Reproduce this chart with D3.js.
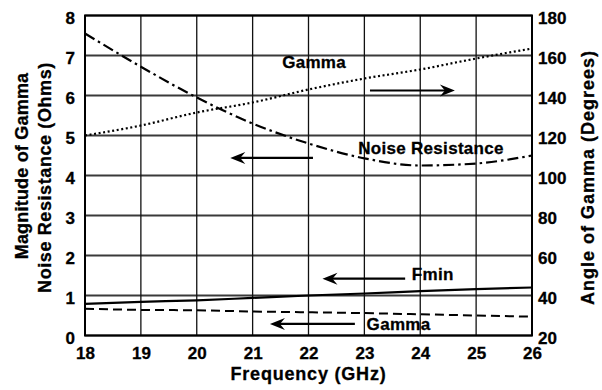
<!DOCTYPE html>
<html>
<head>
<meta charset="utf-8">
<script src="https://cdn.jsdelivr.net/npm/d3@7"></script>
<style>
  html, body { margin: 0; padding: 0; background: #fff; }
  svg { display: block; }
  text { font-family: "Liberation Sans", Arial, Helvetica, sans-serif; font-weight: bold; fill: #000; }
</style>
</head>
<body>
<svg id="chart" width="602" height="390"></svg>
<script>
// Frequency sweep (GHz)
const freq = [18, 19, 20, 21, 22, 23, 24, 25, 26];
// Angle of Gamma (degrees, right axis)
const gammaAngle = [120, 125, 131.5, 136.5, 143, 148.5, 153, 158.5, 163.5];
// Noise resistance (Ohms, left axis)
const noiseRes = [7.55, 6.72, 5.95, 5.3, 4.8, 4.43, 4.25, 4.3, 4.5];
// Fmin (left axis)
const fmin = [0.79, 0.84, 0.88, 0.94, 1.0, 1.05, 1.11, 1.16, 1.2];
// Magnitude of Gamma (left axis)
const gammaMag = [0.67, 0.64, 0.63, 0.6, 0.58, 0.56, 0.53, 0.5, 0.47];

const xTicks = [18, 19, 20, 21, 22, 23, 24, 25, 26];
const yLeftTicks = [0, 1, 2, 3, 4, 5, 6, 7, 8];
const yRightTicks = [20, 40, 60, 80, 100, 120, 140, 160, 180];

const margin = { left: 85, right: 70, top: 15.5, bottom: 54.5 };
const W = 602, H = 390;
const svg = d3.select("#chart");

const x = d3.scaleLinear().domain([18, 26]).range([margin.left, W - margin.right]);
const yL = d3.scaleLinear().domain([0, 8]).range([H - margin.bottom, margin.top]);
const yR = d3.scaleLinear().domain([20, 180]).range([H - margin.bottom, margin.top]);

// Grid
const grid = svg.append("g");
grid.selectAll("line.h").data(yLeftTicks).join("line")
  .attr("x1", x(18)).attr("x2", x(26))
  .attr("y1", d => yL(d)).attr("y2", d => yL(d))
  .attr("stroke", "#3a3a3a").attr("stroke-width", 1.8);
grid.selectAll("line.v").data(xTicks).join("line")
  .attr("y1", yL(0)).attr("y2", yL(8))
  .attr("x1", d => x(d)).attr("x2", d => x(d))
  .attr("stroke", "#111").attr("stroke-width", 1.3);

// Axes (labels only, frame drawn separately)
const axisFont = "17px";
const bottom = svg.append("g").attr("transform", `translate(0,${yL(0)})`)
  .call(d3.axisBottom(x).tickValues(xTicks).tickSize(0).tickPadding(11).tickFormat(d3.format("d")));
const left = svg.append("g").attr("transform", `translate(${x(18)},0)`)
  .call(d3.axisLeft(yL).tickValues(yLeftTicks).tickSize(0).tickPadding(10).tickFormat(d3.format("d")));
const right = svg.append("g").attr("transform", `translate(${x(26)},0)`)
  .call(d3.axisRight(yR).tickValues(yRightTicks).tickSize(0).tickPadding(6).tickFormat(d3.format("d")));
[bottom, left, right].forEach(g => {
  g.select(".domain").remove();
  g.selectAll("text").style("font-size", axisFont)
    .style("font-family", '"Liberation Sans", Arial, sans-serif').style("font-weight", "bold")
    .style("stroke", "#000").style("stroke-width", "0.3px");
});
left.selectAll("text").attr("dy", "0.45em");
right.selectAll("text").attr("dy", "0.45em");

// Frame
svg.append("rect")
  .attr("x", x(18)).attr("y", yL(8))
  .attr("width", x(26) - x(18)).attr("height", yL(0) - yL(8))
  .attr("fill", "none").attr("stroke", "#000").attr("stroke-width", 2);

// Series
const lineL = d3.line().x((d, i) => x(freq[i])).y(d => yL(d)).curve(d3.curveMonotoneX);
const lineR = d3.line().x((d, i) => x(freq[i])).y(d => yR(d)).curve(d3.curveMonotoneX);

const series = svg.append("g").attr("fill", "none").attr("stroke", "#000");
series.append("path").attr("d", lineR(gammaAngle))
  .attr("stroke-width", 2.2).attr("stroke-dasharray", "2,2.6");
series.append("path").attr("d", lineL(noiseRes))
  .attr("stroke-width", 2.2).attr("stroke-dasharray", "11,4,2.5,4");
series.append("path").attr("d", lineL(fmin))
  .attr("stroke-width", 2.2);
series.append("path").attr("d", lineL(gammaMag))
  .attr("stroke-width", 2).attr("stroke-dasharray", "9,5");

// Annotations: labels and arrows pointing toward the axis each curve uses
const labels = [
  { text: "Gamma", f: 22.1, v: 6.83, anchor: "middle" },
  { text: "Noise Resistance", f: 22.89, v: 4.7, anchor: "start" },
  { text: "Fmin", f: 23.85, v: 1.54, anchor: "start" },
  { text: "Gamma", f: 23.04, v: 0.29, anchor: "start" }
];
const arrows = [
  { from: 23.1, to: 24.62, v: 6.125 },
  { from: 22.08, to: 20.6, v: 4.44 },
  { from: 23.73, to: 22.25, v: 1.42 },
  { from: 22.83, to: 21.31, v: 0.29 }
];

svg.append("g").selectAll("text").data(labels).join("text")
  .attr("x", d => x(d.f)).attr("y", d => yL(d.v))
  .attr("dy", "0.36em").attr("text-anchor", d => d.anchor)
  .style("font-size", "17px").style("letter-spacing", "0.3px")
  .style("stroke", "#000").style("stroke-width", "0.3px")
  .text(d => d.text);

const ag = svg.append("g");
arrows.forEach(a => {
  const x0 = x(a.from), x1 = x(a.to), y0 = yL(a.v);
  const dir = Math.sign(x1 - x0);
  ag.append("line").attr("x1", x0).attr("x2", x1 - dir * 8).attr("y1", y0).attr("y2", y0)
    .attr("stroke", "#000").attr("stroke-width", 2.2);
  ag.append("path")
    .attr("d", `M${x1},${y0} L${x1 - dir * 15},${y0 - 6} L${x1 - dir * 10},${y0} L${x1 - dir * 15},${y0 + 6} Z`)
    .attr("fill", "#000");
});

// Axis titles
const titles = svg.append("g").style("font-size", "18px")
  .style("stroke", "#000").style("stroke-width", "0.3px");
titles.append("text").attr("x", x(22)).attr("y", 380)
  .attr("text-anchor", "middle").style("letter-spacing", "0.8px").text("Frequency (GHz)");
titles.append("text").attr("transform", "translate(28,166) rotate(-90)")
  .attr("text-anchor", "middle").style("letter-spacing", "0.2px").text("Magnitude of Gamma");
titles.append("text").attr("transform", "translate(51,177.5) rotate(-90)")
  .attr("text-anchor", "middle").style("letter-spacing", "0.6px").text("Noise Resistance (Ohms)");
titles.append("text").attr("transform", "translate(594,177.5) rotate(-90)")
  .attr("text-anchor", "middle").style("letter-spacing", "1px").text("Angle of Gamma (Degrees)");
</script>
</body>
</html>
